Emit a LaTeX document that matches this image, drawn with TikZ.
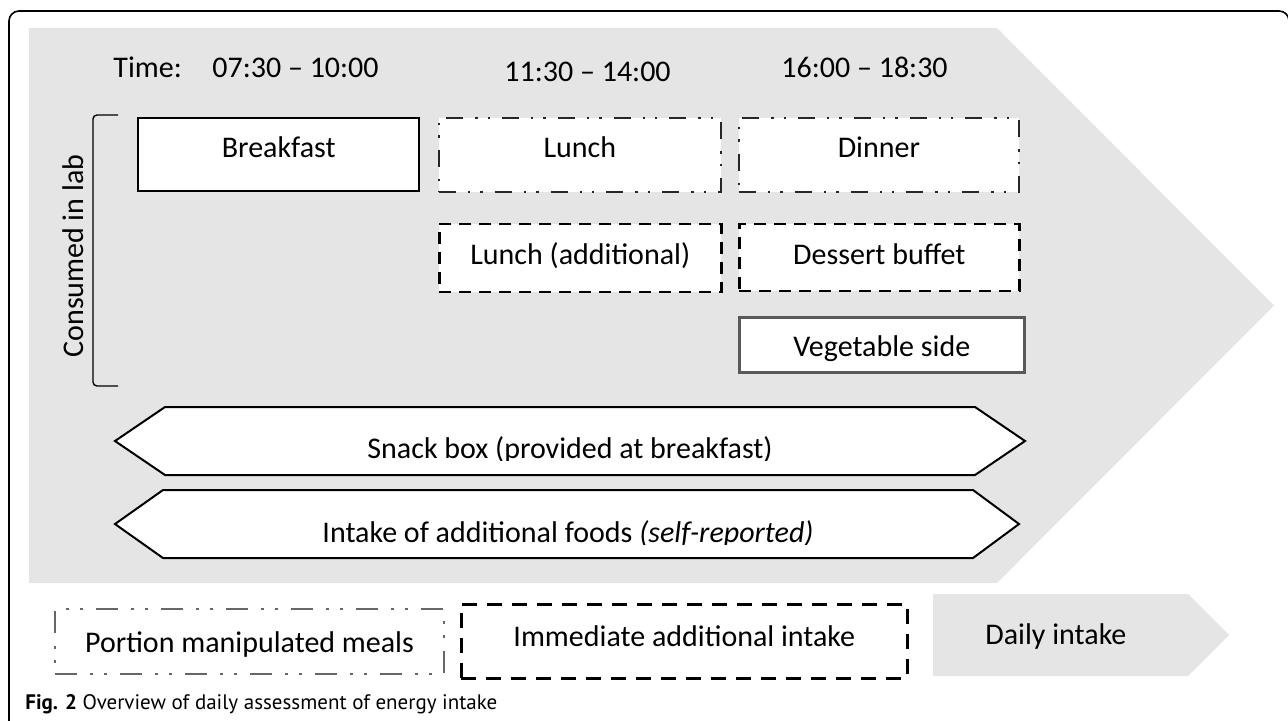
\documentclass[tikz,border=0pt]{standalone}
\usepackage{fontspec}
\setmainfont{Carlito}
\newfontfamily\capfont{PT Sans}
\usepackage{tikz}
\usetikzlibrary{positioning}
\definecolor{panelgrey}{RGB}{229,229,229}

\begin{document}
\begin{tikzpicture}[x=0.5pt,y=-0.5pt,font=\fontsize{15}{18}\selectfont,
  txt/.style={inner sep=0pt},
  meal/.style={draw,fill=white,inner sep=0pt,anchor=north west},
  served/.style={meal,draw=black!85,line width=0.9pt,
    dash pattern=on 8.5pt off 6pt on 1.2pt off 5pt on 1.2pt off 6pt},
  extra/.style={meal,line width=1.3pt,dash pattern=on 6pt off 4pt},
  hexa/.style={draw,fill=white,line width=1pt,line join=miter}]
\useasboundingbox (0,0) rectangle (1288,720);
% frame and day arrow
\draw[line width=0.8pt,rounded corners=5pt] (9,11) rectangle (1289,780);
\fill[panelgrey] (29,28) -- (997,28) -- (1274,305.5) -- (997,583) -- (29,583) -- cycle;
% time slots
\node[txt,anchor=base west] (tlbl) at (113,77) {Time:};
\node[txt,anchor=base west] (slot1) at (212,77) {07:30 -- 10:00};
\node[txt,anchor=base west] (slot2) at (504,81) {11:30 -- 14:00};
\node[txt,anchor=base west] (slot3) at (781,77) {16:00 -- 18:30};
% consumed in lab
\draw[line width=0.7pt,rounded corners=2pt] (118,115) -- (93,115) -- (93,386) -- (118,386);
\node[txt,rotate=90,anchor=base] (lab) at (83,256) {Consumed in lab};
\node[meal,line width=1.2pt,minimum width=140.5pt,text height=19.5pt,text depth=17pt] (bfast) at (137,117) {Breakfast};
\node[served,minimum width=141pt,text height=20pt,text depth=17pt] (lunch) at (438,117) {Lunch};
\node[served,minimum width=140pt,text height=20pt,text depth=17pt] (dinner) at (738,117) {Dinner};
\node[extra,below=15pt of lunch.south west,anchor=north west,minimum width=141pt,text height=20pt,text depth=14pt] (lunchx) {Lunch (additional)};
\node[extra,below=15pt of dinner.south west,anchor=north west,minimum width=140pt,text height=20pt,text depth=13.5pt] (dessert) {Dessert buffet};
\node[meal,draw=black!65,line width=1.3pt,below=12pt of dessert.south west,anchor=north west,minimum width=142.5pt,text height=19.5pt,text depth=8pt] (veg) {Vegetable side};
% whole-day intake
\draw[hexa] (115,441) -- (165,407) -- (975,407) -- (1025,441) -- (975,475) -- (165,475) -- cycle;
\draw[hexa] (115,524) -- (163,490) -- (973,490) -- (1019,524) -- (973,558) -- (163,558) -- cycle;
\begin{scope}
\clip (115,400) rectangle (1025,460);
\node[txt,anchor=base] (snack) at (570,458) {Snack box (provided at breakfast)};
\end{scope}
\begin{scope}
\clip (115,480) rectangle (1025,544);
\node[txt,anchor=base] (selfrep) at (568,542) {Intake of additional foods \textit{(self-reported)}};
\end{scope}
% legend
\node[meal,draw=black!60,line width=1pt,dash pattern=on 11pt off 6.5pt on 1.5pt off 5.5pt on 1.5pt off 6.5pt,
  minimum width=194.5pt,text height=21.5pt,text depth=11pt] (keyportion) at (54,608) {Portion manipulated meals};
\node[meal,line width=1.3pt,dash pattern=on 7.5pt off 5pt,
  minimum width=223pt,text height=21pt,text depth=16pt] (keyextra) at (460,603) {Immediate additional intake};
\fill[panelgrey] (933,594) -- (1188,594) -- (1229,635) -- (1188,676) -- (933,676) -- cycle;
\node[txt,anchor=base west] (keydaily) at (985,644) {Daily intake};
\node[txt,anchor=base west,font=\capfont\fontsize{10.5}{13}\selectfont] (caption) at (25,709)
  {\textbf{Fig. 2} Overview of daily assessment of energy intake};
\end{tikzpicture}
\end{document}
